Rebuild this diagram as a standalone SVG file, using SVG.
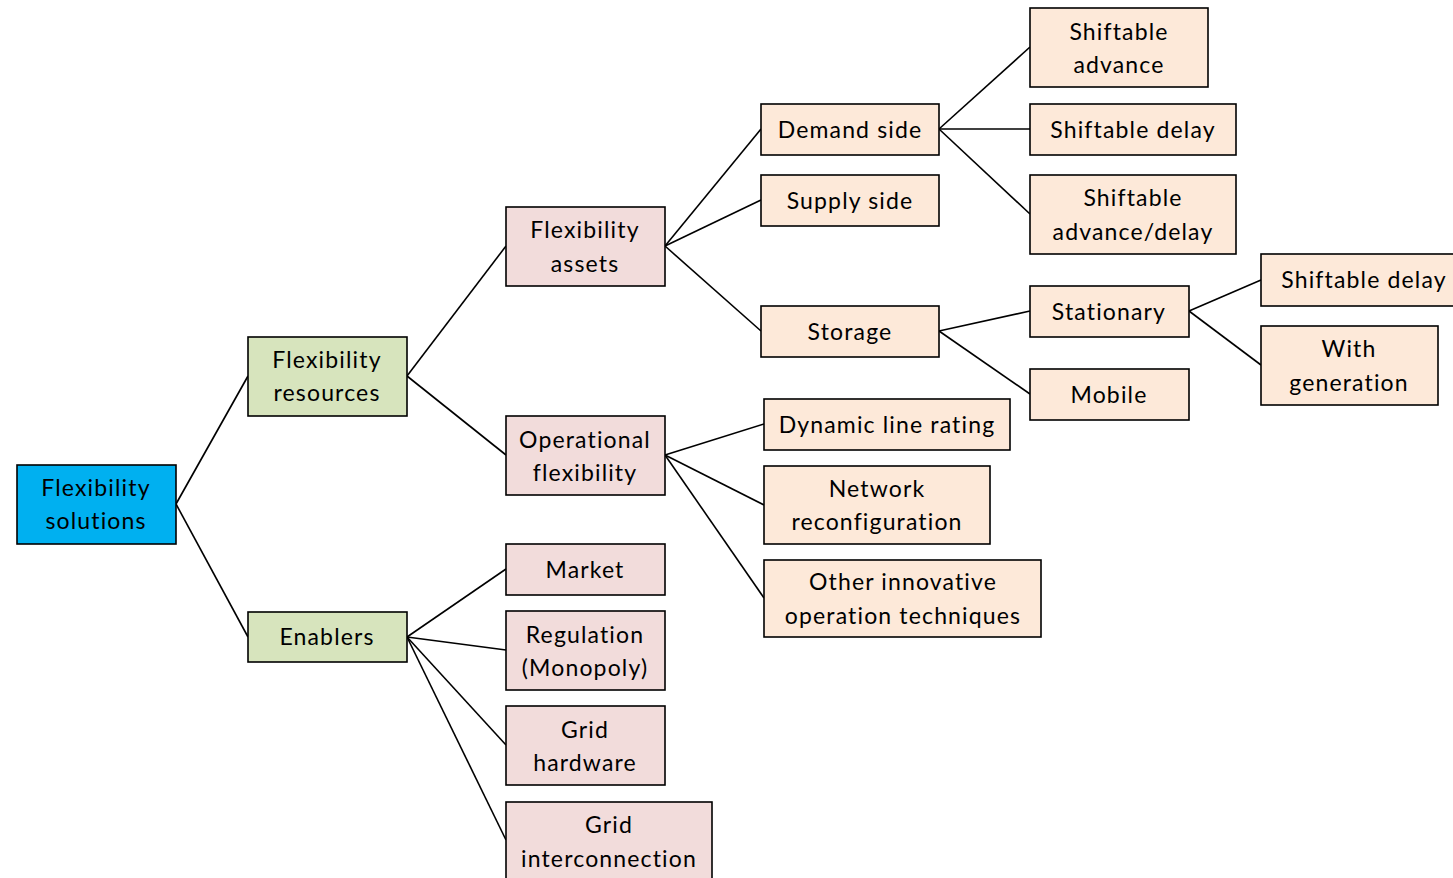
<svg xmlns="http://www.w3.org/2000/svg" width="1453" height="878" viewBox="0 0 1453 878">
  <style>
    .box { stroke: #000; stroke-width: 1.6; }
    .root { fill: #00b0f0; }
    .l1 { fill: #d7e4bd; }
    .l2 { fill: #f2dcdb; }
    .l3 { fill: #fde9d9; }
    text { font-family: "Lato", "Liberation Sans", sans-serif; font-size: 23px; fill: #000; text-anchor: middle; letter-spacing: 1.15px; }
    .links line { stroke: #000; stroke-width: 1.6; }
  </style>
  <rect width="1453" height="878" fill="#fff"/>
  <g class="links">
    <line x1="176" y1="504" x2="248" y2="376"/>
    <line x1="176" y1="504" x2="248" y2="637"/>
    <line x1="407" y1="376" x2="506" y2="246"/>
    <line x1="407" y1="376" x2="506" y2="455"/>
    <line x1="665" y1="246" x2="761" y2="129"/>
    <line x1="665" y1="246" x2="761" y2="200"/>
    <line x1="665" y1="246" x2="761" y2="331"/>
    <line x1="939" y1="129" x2="1030" y2="47"/>
    <line x1="939" y1="129" x2="1030" y2="129"/>
    <line x1="939" y1="129" x2="1030" y2="214"/>
    <line x1="939" y1="331" x2="1030" y2="311"/>
    <line x1="939" y1="331" x2="1030" y2="394"/>
    <line x1="1189" y1="311" x2="1261" y2="280"/>
    <line x1="1189" y1="311" x2="1261" y2="365"/>
    <line x1="665" y1="455" x2="764" y2="424"/>
    <line x1="665" y1="455" x2="764" y2="505"/>
    <line x1="665" y1="455" x2="764" y2="598"/>
    <line x1="407" y1="637" x2="506" y2="569"/>
    <line x1="407" y1="637" x2="506" y2="650"/>
    <line x1="407" y1="637" x2="506" y2="745"/>
    <line x1="407" y1="637" x2="506" y2="840"/>
  </g>
  <g id="flexibility-solutions">
    <rect class="box root" x="17" y="465" width="159" height="79"/>
    <text x="96" y="496">Flexibility</text>
    <text x="96" y="529">solutions</text>
  </g>
  <g id="flexibility-resources">
    <rect class="box l1" x="248" y="337" width="159" height="79"/>
    <text x="327" y="368">Flexibility</text>
    <text x="327" y="401">resources</text>
  </g>
  <g id="enablers">
    <rect class="box l1" x="248" y="612" width="159" height="50"/>
    <text x="327" y="645">Enablers</text>
  </g>
  <g id="flexibility-assets">
    <rect class="box l2" x="506" y="207" width="159" height="79"/>
    <text x="585" y="238">Flexibility</text>
    <text x="585" y="272">assets</text>
  </g>
  <g id="operational-flexibility">
    <rect class="box l2" x="506" y="416" width="159" height="79"/>
    <text x="585" y="448">Operational</text>
    <text x="585" y="481">flexibility</text>
  </g>
  <g id="market">
    <rect class="box l2" x="506" y="544" width="159" height="51"/>
    <text x="585" y="578">Market</text>
  </g>
  <g id="regulation">
    <rect class="box l2" x="506" y="611" width="159" height="79"/>
    <text x="585" y="643">Regulation</text>
    <text x="585" y="676">(Monopoly)</text>
  </g>
  <g id="grid-hardware">
    <rect class="box l2" x="506" y="706" width="159" height="79"/>
    <text x="585" y="738">Grid</text>
    <text x="585" y="771">hardware</text>
  </g>
  <g id="grid-interconnection">
    <rect class="box l2" x="506" y="802" width="206" height="90"/>
    <text x="609" y="833">Grid</text>
    <text x="609" y="867">interconnection</text>
  </g>
  <g id="demand-side">
    <rect class="box l3" x="761" y="104" width="178" height="51"/>
    <text x="850" y="138">Demand side</text>
  </g>
  <g id="supply-side">
    <rect class="box l3" x="761" y="175" width="178" height="51"/>
    <text x="850" y="209">Supply side</text>
  </g>
  <g id="storage">
    <rect class="box l3" x="761" y="306" width="178" height="51"/>
    <text x="850" y="340">Storage</text>
  </g>
  <g id="dynamic-line-rating">
    <rect class="box l3" x="764" y="399" width="246" height="51"/>
    <text x="887" y="433">Dynamic line rating</text>
  </g>
  <g id="network-reconfiguration">
    <rect class="box l3" x="764" y="466" width="226" height="78"/>
    <text x="877" y="497">Network</text>
    <text x="877" y="530">reconfiguration</text>
  </g>
  <g id="other-techniques">
    <rect class="box l3" x="764" y="560" width="277" height="77"/>
    <text x="903" y="590">Other innovative</text>
    <text x="903" y="624">operation techniques</text>
  </g>
  <g id="shiftable-advance">
    <rect class="box l3" x="1030" y="8" width="178" height="79"/>
    <text x="1119" y="40">Shiftable</text>
    <text x="1119" y="73">advance</text>
  </g>
  <g id="shiftable-delay">
    <rect class="box l3" x="1030" y="104" width="206" height="51"/>
    <text x="1133" y="138">Shiftable delay</text>
  </g>
  <g id="shiftable-advance-delay">
    <rect class="box l3" x="1030" y="175" width="206" height="79"/>
    <text x="1133" y="206">Shiftable</text>
    <text x="1133" y="240">advance/delay</text>
  </g>
  <g id="stationary">
    <rect class="box l3" x="1030" y="286" width="159" height="51"/>
    <text x="1109" y="320">Stationary</text>
  </g>
  <g id="mobile">
    <rect class="box l3" x="1030" y="369" width="159" height="51"/>
    <text x="1109" y="403">Mobile</text>
  </g>
  <g id="stationary-shiftable-delay">
    <rect class="box l3" x="1261" y="254" width="200" height="52"/>
    <text x="1364" y="288">Shiftable delay</text>
  </g>
  <g id="with-generation">
    <rect class="box l3" x="1261" y="326" width="177" height="79"/>
    <text x="1349" y="357">With</text>
    <text x="1349" y="391">generation</text>
  </g>
</svg>
